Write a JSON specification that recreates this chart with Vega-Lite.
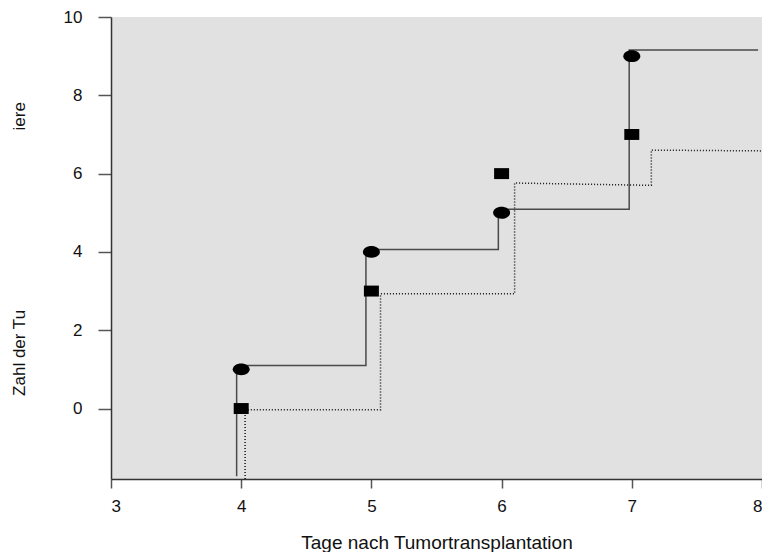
{
  "$schema": "https://vega.github.io/schema/vega-lite/v6.json",
  "width": 651,
  "height": 462,
  "autosize": {"type": "none"},
  "padding": {"left": 111, "top": 17, "right": 0, "bottom": 73},
  "background": "white",
  "config": {
    "view": {"fill": "#E1E1E1", "stroke": null},
    "axis": {
      "grid": false,
      "labelFont": "Liberation Sans",
      "labelFontSize": 17,
      "labelColor": "#111",
      "titleFont": "Liberation Sans",
      "titleFontWeight": "normal",
      "titleColor": "#111",
      "domainColor": "#333",
      "domainWidth": 1.5,
      "tickColor": "#555",
      "tickWidth": 1.5
    }
  },
  "datasets": {
    "steps": [
      {"s": "A", "o": 1, "x": 3.965, "y": -1.73},
      {"s": "A", "o": 2, "x": 3.965, "y": 1.1},
      {"s": "A", "o": 3, "x": 4.958, "y": 1.1},
      {"s": "A", "o": 4, "x": 4.958, "y": 4.06},
      {"s": "A", "o": 5, "x": 5.975, "y": 4.06},
      {"s": "A", "o": 6, "x": 5.975, "y": 5.09},
      {"s": "A", "o": 7, "x": 6.98, "y": 5.09},
      {"s": "A", "o": 8, "x": 6.98, "y": 9.16},
      {"s": "A", "o": 9, "x": 7.97, "y": 9.16},
      {"s": "B", "o": 1, "x": 4.03, "y": -1.8},
      {"s": "B", "o": 2, "x": 4.03, "y": -0.03},
      {"s": "B", "o": 3, "x": 5.07, "y": -0.03},
      {"s": "B", "o": 4, "x": 5.07, "y": 2.93},
      {"s": "B", "o": 5, "x": 6.1, "y": 2.93},
      {"s": "B", "o": 6, "x": 6.1, "y": 5.76},
      {"s": "B", "o": 7, "x": 7.15, "y": 5.7},
      {"s": "B", "o": 8, "x": 7.15, "y": 6.6},
      {"s": "B", "o": 9, "x": 8.0, "y": 6.58}
    ],
    "pts": [
      {"s": "A", "x": 4, "y": 1},
      {"s": "A", "x": 5, "y": 4},
      {"s": "A", "x": 6, "y": 5},
      {"s": "A", "x": 7, "y": 9},
      {"s": "B", "x": 4, "y": 0},
      {"s": "B", "x": 5, "y": 3},
      {"s": "B", "x": 6, "y": 6},
      {"s": "B", "x": 7, "y": 7}
    ]
  },
  "encoding": {
    "x": {
      "field": "x",
      "type": "quantitative",
      "scale": {"domain": [3, 8], "nice": false, "zero": false},
      "axis": {
        "values": [3, 4, 5, 6, 7, 8],
        "format": "d",
        "tickSize": 9,
        "labelPadding": 10,
        "labelFontSize": 17,
        "title": "Tage nach Tumortransplantation",
        "titleFontSize": 19,
        "titleY": 63,
        "titleBaseline": "middle"
      }
    },
    "y": {
      "field": "y",
      "type": "quantitative",
      "scale": {"domain": [-1.8, 10], "nice": false, "zero": false},
      "axis": {
        "values": [0, 2, 4, 6, 8, 10],
        "format": "d",
        "tickSize": 13,
        "labelPadding": 16,
        "labelFontSize": 17,
        "title": "Zahl der Tu\u00a0\u00a0\u00a0\u00a0\u00a0\u00a0\u00a0\u00a0\u00a0\u00a0\u00a0\u00a0\u00a0\u00a0\u00a0\u00a0\u00a0\u00a0\u00a0\u00a0\u00a0\u00a0\u00a0\u00a0\u00a0\u00a0\u00a0\u00a0\u00a0\u00a0\u00a0\u00a0\u00a0\u00a0\u00a0\u00a0\u00a0\u00a0iere",
        "titleFontSize": 17,
        "titleAngle": -90,
        "titleX": -92,
        "titleY": 231.5,
        "titleAlign": "center",
        "titleBaseline": "middle"
      }
    }
  },
  "layer": [
    {
      "data": {"name": "steps"},
      "transform": [{"filter": "datum.s === 'B'"}],
      "mark": {"type": "line", "color": "#111", "strokeWidth": 1.5, "strokeDash": [1, 2], "interpolate": "linear"},
      "encoding": {"order": {"field": "o", "type": "quantitative"}}
    },
    {
      "data": {"name": "steps"},
      "transform": [{"filter": "datum.s === 'A'"}],
      "mark": {"type": "line", "color": "#4a4a4a", "strokeWidth": 1.5, "interpolate": "linear"},
      "encoding": {"order": {"field": "o", "type": "quantitative"}}
    },
    {
      "data": {"name": "pts"},
      "transform": [{"filter": "datum.s === 'A'"}],
      "mark": {"type": "point", "filled": true, "opacity": 1, "color": "#000", "size": 289, "shape": "M-1,0A1,0.7,0,1,1,1,0A1,0.7,0,1,1,-1,0Z"}
    },
    {
      "data": {"name": "pts"},
      "transform": [{"filter": "datum.s === 'B'"}],
      "mark": {"type": "point", "filled": true, "opacity": 1, "color": "#000", "size": 225, "shape": "M-1,-0.73H1V0.73H-1Z"}
    }
  ]
}
